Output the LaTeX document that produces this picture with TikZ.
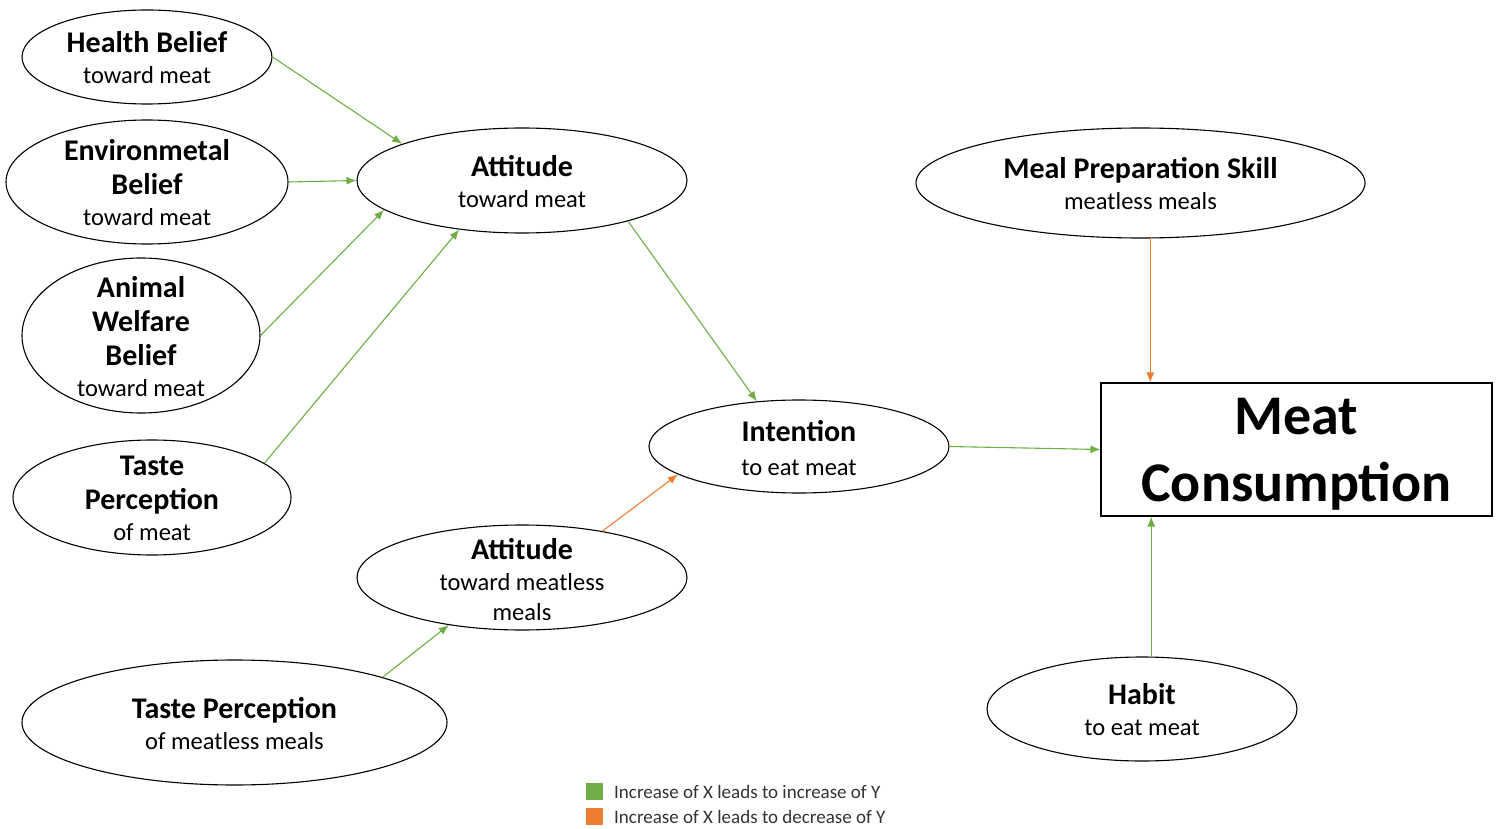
\documentclass[tikz,border=0pt]{standalone}
\usepackage{fontspec}
\setmainfont{Carlito}
\usetikzlibrary{arrows.meta,shapes.geometric}
\definecolor{posgreen}{HTML}{70AD47}
\definecolor{negorange}{HTML}{ED7D31}
\newcommand{\bhead}[1]{{\fontsize{30}{34}\selectfont\bfseries #1}}

\begin{document}
\begin{tikzpicture}[x=1pt,y=-1pt,
oval/.style={ellipse,draw=black,line width=1.1pt,inner sep=0pt},
caption/.style={align=center,font=\fontsize{24.5}{34}\selectfont,inner sep=0pt},
posedge/.style={-{Latex[length=10pt,width=8pt]},posgreen,line width=1.1pt},
negedge/.style={-{Latex[length=10pt,width=8pt]},negorange,line width=1.1pt},
legbox/.style={rectangle,minimum size=17pt,inner sep=0pt},
legtext/.style={anchor=west,inner sep=0pt,text=black!80,font=\fontsize{19}{21}\selectfont}]

\useasboundingbox (0,0) rectangle (1497,829);

% determinants of the attitude toward meat
\node (HEALTH) at (147,57) [oval,minimum width=250,minimum height=94,
  label={[caption,yshift=-1pt]center:{\bhead{Health Belief}\\[-3pt]toward meat}}] {};
\node (ENV) at (147,182) [oval,minimum width=282,minimum height=124,
  label={[caption,yshift=-1pt]center:{\bhead{Environmetal}\\\bhead{Belief}\\[-3pt]toward meat}}] {};
\node (ANIMAL) at (141,335.5) [oval,minimum width=238,minimum height=155,
  label={[caption,yshift=-1pt]center:{\bhead{Animal}\\\bhead{Welfare}\\\bhead{Belief}\\[-3pt]toward meat}}] {};
\node (TASTE) at (152,497.5) [oval,minimum width=278,minimum height=115,
  label={[caption,yshift=-1pt]center:{\bhead{Taste}\\\bhead{Perception}\\[-3pt]of meat}}] {};

\node (ATT) at (522,180.5) [oval,minimum width=330,minimum height=105,
  label={[caption,yshift=-1pt]center:{\bhead{Attitude}\\[-3pt]toward meat}}] {};
\node (MEAL) at (1140.5,183) [oval,minimum width=449,minimum height=110,
  label={[caption,yshift=-1pt]center:{\bhead{Meal Preparation Skill}\\[-3pt]meatless meals}}] {};
\node (INTENT) at (799,446.5) [oval,minimum width=300,minimum height=93,
  label={[caption,yshift=-2pt]center:{\bhead{Intention}\\to eat meat}}] {};

\node (CONS) at (1296.5,449.5) [rectangle,draw=black,line width=1.1pt,minimum width=391,minimum height=133,
  label={[caption,yshift=-5pt,font=\fontsize{56}{67}\selectfont\bfseries]center:{Meat\\Consumption}}] {};

% meatless side
\node (ATTLESS) at (522,577.5) [oval,minimum width=330,minimum height=105,
  label={[caption,yshift=-2pt]center:{\bhead{Attitude}\\[-3pt]toward meatless\\[-4pt]meals}}] {};
\node (TASTELESS) at (234.5,722.5) [oval,minimum width=425,minimum height=125,
  label={[caption,yshift=-1pt]center:{\bhead{Taste Perception}\\[-3pt]of meatless meals}}] {};
\node (HABIT) at (1142,709) [oval,minimum width=310,minimum height=104,
  label={[caption,yshift=-1pt]center:{\bhead{Habit}\\[-3pt]to eat meat}}] {};

% effects
\draw[posedge] (HEALTH.east) -- (ATT.163);
\draw[posedge] (ENV.east) -- (ATT.west);
\draw[posedge] (ANIMAL.east) -- (ATT.192);
\draw[posedge] (TASTE.17) -- (ATT.218);
\draw[posedge] (ATT.339) -- (INTENT.133);
\draw[negedge] (ATTLESS.30) -- (INTENT.193);
\draw[posedge] (TASTELESS.17) -- (ATTLESS.213);
\draw[posedge] (INTENT.east) -- (CONS.west);
\draw[negedge] (MEAL.280) -- (MEAL.280 |- CONS.north);
\draw[posedge] (HABIT.80) -- (HABIT.80 |- CONS.south);

% legend
\node (POSKEY) at (594.5,791.5) [legbox,fill=posgreen] {};
\node (POSTXT) at (614,791.5) [legtext] {Increase of X leads to increase of Y};
\node (NEGKEY) at (594.5,816.5) [legbox,fill=negorange] {};
\node (NEGTXT) at (614,816.5) [legtext] {Increase of X leads to decrease of Y};

\end{tikzpicture}
\end{document}
